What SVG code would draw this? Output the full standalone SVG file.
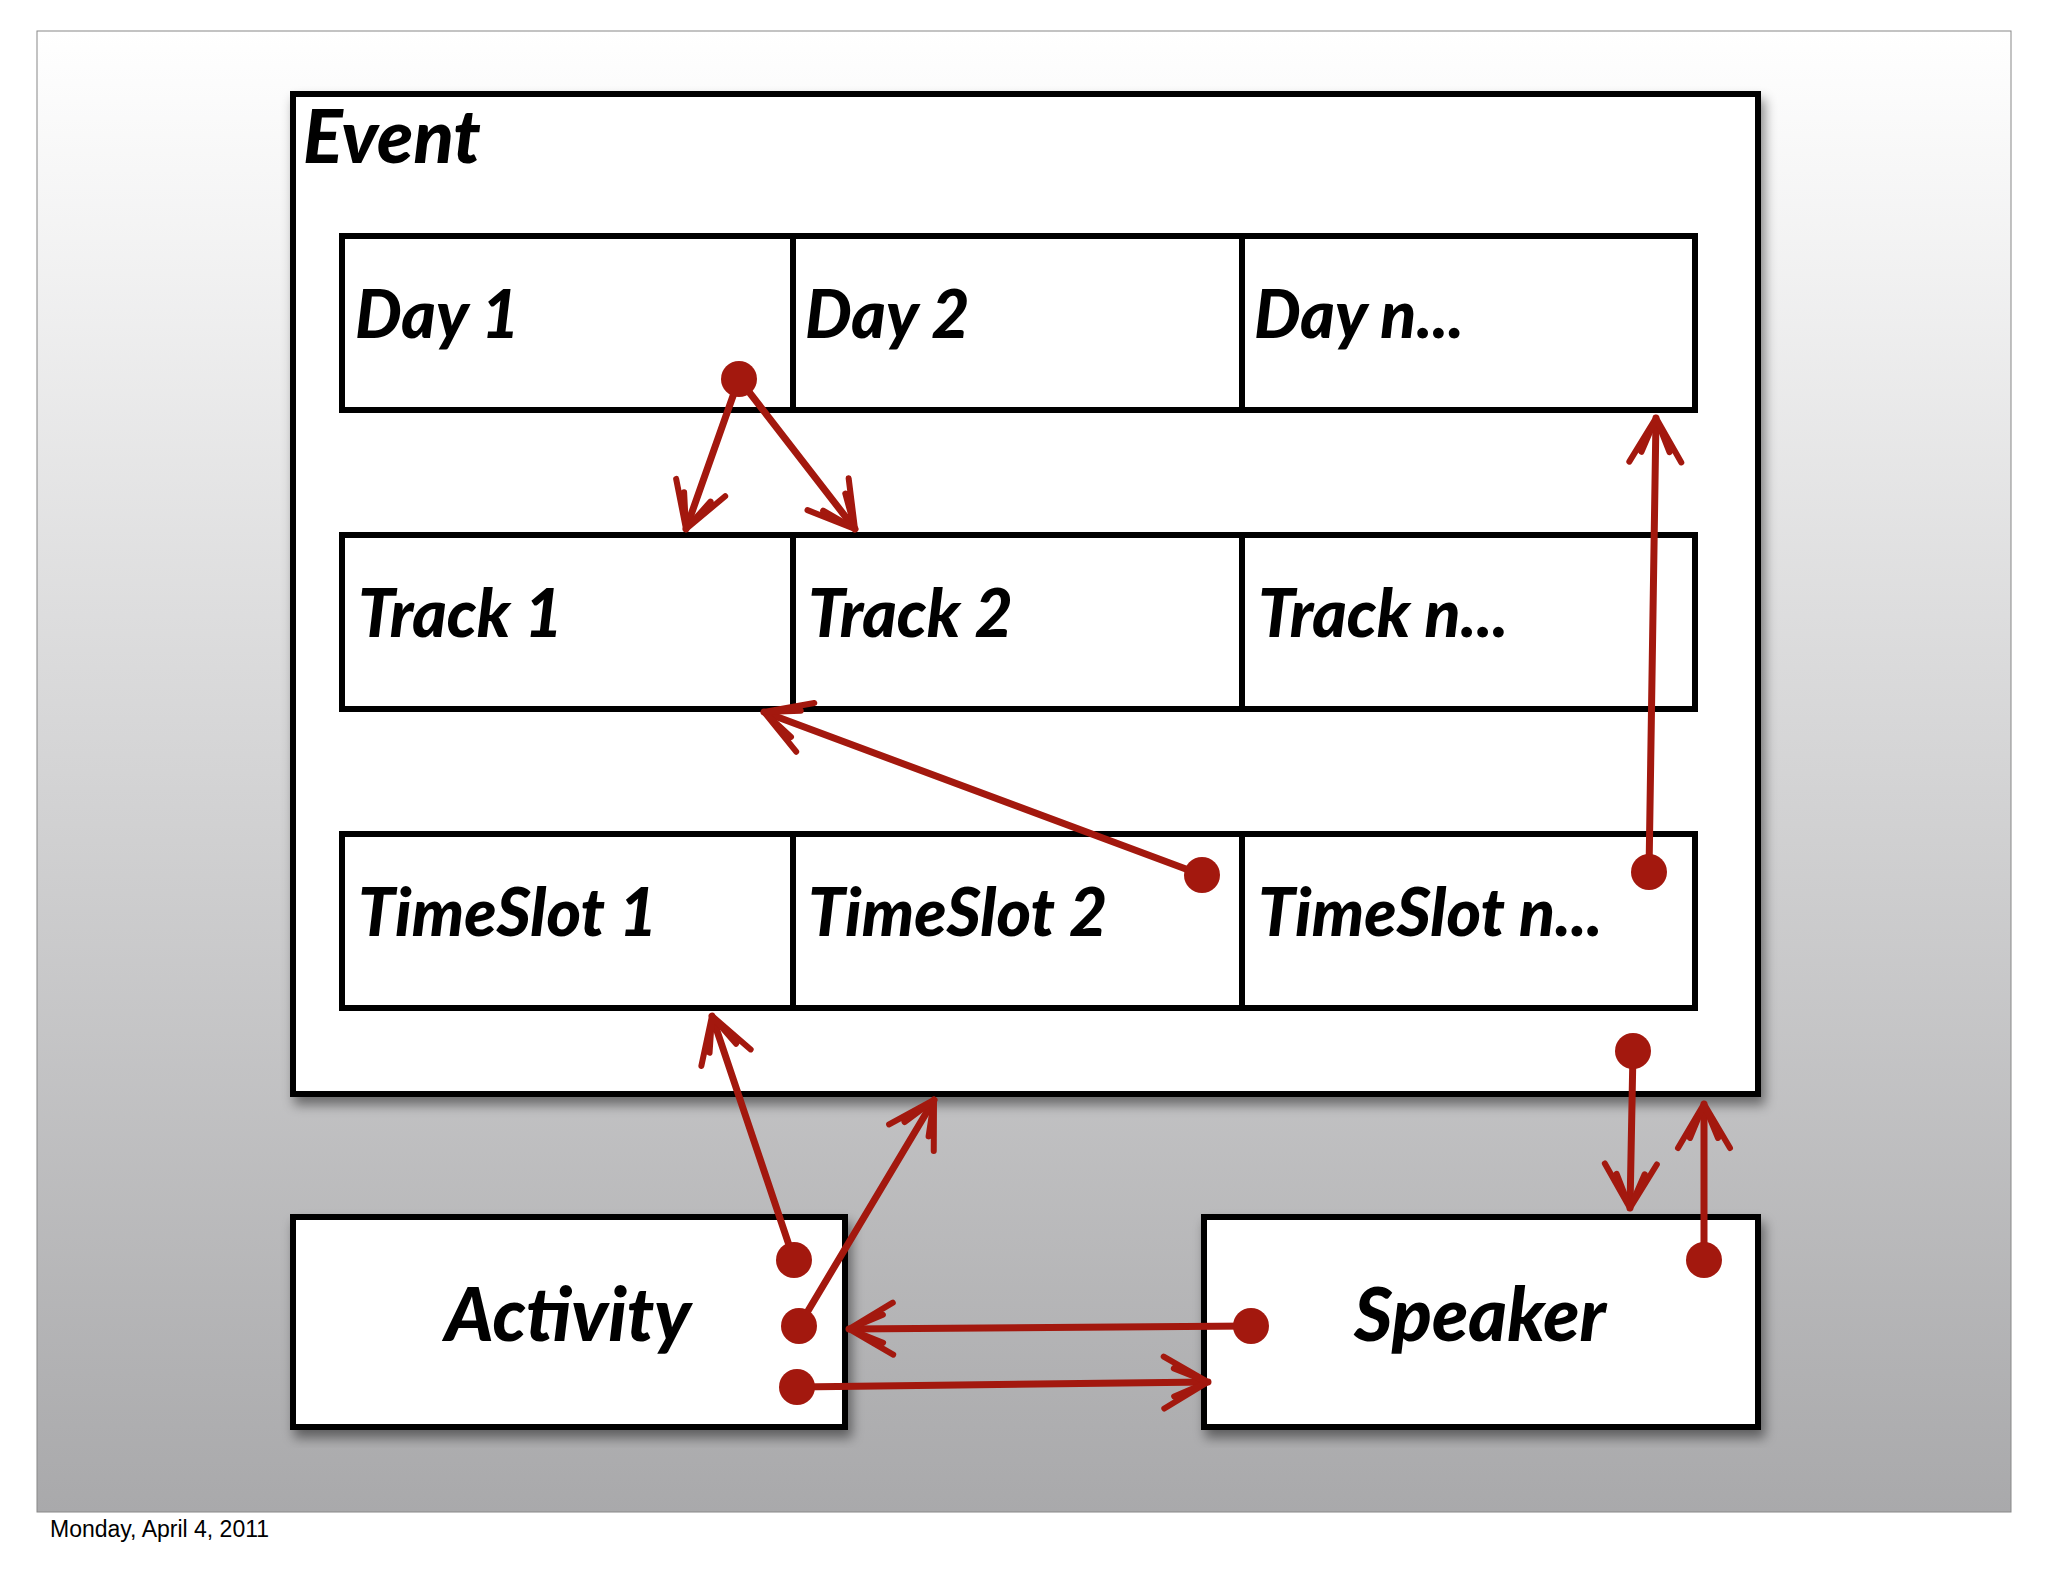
<svg xmlns="http://www.w3.org/2000/svg" width="2048" height="1582" viewBox="0 0 2048 1582">
<defs>
<linearGradient id="bg" x1="0" y1="0" x2="0" y2="1"><stop offset="0" stop-color="#ffffff"/><stop offset="1" stop-color="#a9a9ab"/></linearGradient>
<filter id="sh" x="-5%" y="-5%" width="115%" height="115%"><feDropShadow dx="4" dy="8" stdDeviation="6" flood-color="#000" flood-opacity="0.45"/></filter>
<marker id="ah" viewBox="-50 -32 56 64" markerWidth="56" markerHeight="64" refX="0" refY="0" orient="auto" markerUnits="userSpaceOnUse">
<path d="M-44,-26 L0,0 L-44,26 M-34,-14 L0,0 L-34,14" fill="none" stroke="#a3180e" stroke-width="6" stroke-linecap="round" stroke-linejoin="round"/>
</marker>
<style>
.box{fill:#fff;stroke:#000;stroke-width:6}
.lbl{font-family:Lato,"Liberation Sans",sans-serif;font-weight:900;font-style:italic;font-size:66px;fill:#000}
.big{font-size:74px}
.c{fill:none;stroke:#a3180e;stroke-width:7;stroke-linecap:round;marker-end:url(#ah)}
.dot{fill:#a3180e}
</style>
</defs>
<rect x="0" y="0" width="2048" height="1582" fill="#fff"/>
<rect x="37" y="31" width="1974" height="1481" fill="url(#bg)" stroke="#888" stroke-width="1"/>
<g id="event"><rect class="box" x="293" y="94" width="1465" height="1000" filter="url(#sh)"/><text class="lbl big" x="303" y="163">Event</text></g>
<g id="days">
<rect class="box" x="342" y="236" width="1353" height="174"/>
<line x1="793" y1="236" x2="793" y2="410" stroke="#000" stroke-width="6"/><line x1="1242" y1="236" x2="1242" y2="410" stroke="#000" stroke-width="6"/>
<text class="lbl" x="355" y="338">Day 1</text><text class="lbl" x="805" y="338">Day 2</text><text class="lbl" x="1254" y="338">Day n...</text>
</g>
<g id="tracks">
<rect class="box" x="342" y="535" width="1353" height="174"/>
<line x1="793" y1="535" x2="793" y2="709" stroke="#000" stroke-width="6"/><line x1="1242" y1="535" x2="1242" y2="709" stroke="#000" stroke-width="6"/>
<text class="lbl" x="358" y="637">Track 1</text><text class="lbl" x="808" y="637">Track 2</text><text class="lbl" x="1258" y="637">Track n...</text>
</g>
<g id="timeslots">
<rect class="box" x="342" y="834" width="1353" height="174"/>
<line x1="793" y1="834" x2="793" y2="1008" stroke="#000" stroke-width="6"/><line x1="1242" y1="834" x2="1242" y2="1008" stroke="#000" stroke-width="6"/>
<text class="lbl" x="358" y="936">TimeSlot 1</text><text class="lbl" x="808" y="936">TimeSlot 2</text><text class="lbl" x="1258" y="936">TimeSlot n...</text>
</g>
<g id="activity"><rect class="box" x="293" y="1217" width="552" height="210" filter="url(#sh)"/><text class="lbl big" x="568" y="1341" text-anchor="middle">Activity</text></g>
<g id="speaker"><rect class="box" x="1204" y="1217" width="554" height="210" filter="url(#sh)"/><text class="lbl big" x="1480" y="1341" text-anchor="middle">Speaker</text></g>
<g id="connectors">
<path class="c" d="M739,379 L686,529"/>
<path class="c" d="M739,379 L855,529"/>
<path class="c" d="M1202,875 L764,712"/>
<path class="c" d="M1649,872 L1656,418"/>
<path class="c" d="M794,1260 L712,1016"/>
<path class="c" d="M799,1326 L934,1100"/>
<path class="c" d="M1251,1326 L849,1329"/>
<path class="c" d="M797,1387 L1208,1382"/>
<path class="c" d="M1633,1051 L1630,1208"/>
<path class="c" d="M1704,1260 L1704,1104"/>
<circle class="dot" cx="739" cy="379" r="18"/><circle class="dot" cx="1202" cy="875" r="18"/><circle class="dot" cx="1649" cy="872" r="18"/>
<circle class="dot" cx="794" cy="1260" r="18"/><circle class="dot" cx="799" cy="1326" r="18"/><circle class="dot" cx="1251" cy="1326" r="18"/>
<circle class="dot" cx="797" cy="1387" r="18"/><circle class="dot" cx="1633" cy="1051" r="18"/><circle class="dot" cx="1704" cy="1260" r="18"/>
</g>
<text x="50" y="1537" font-family="Liberation Sans,sans-serif" font-size="23" fill="#000">Monday, April 4, 2011</text>
</svg>
